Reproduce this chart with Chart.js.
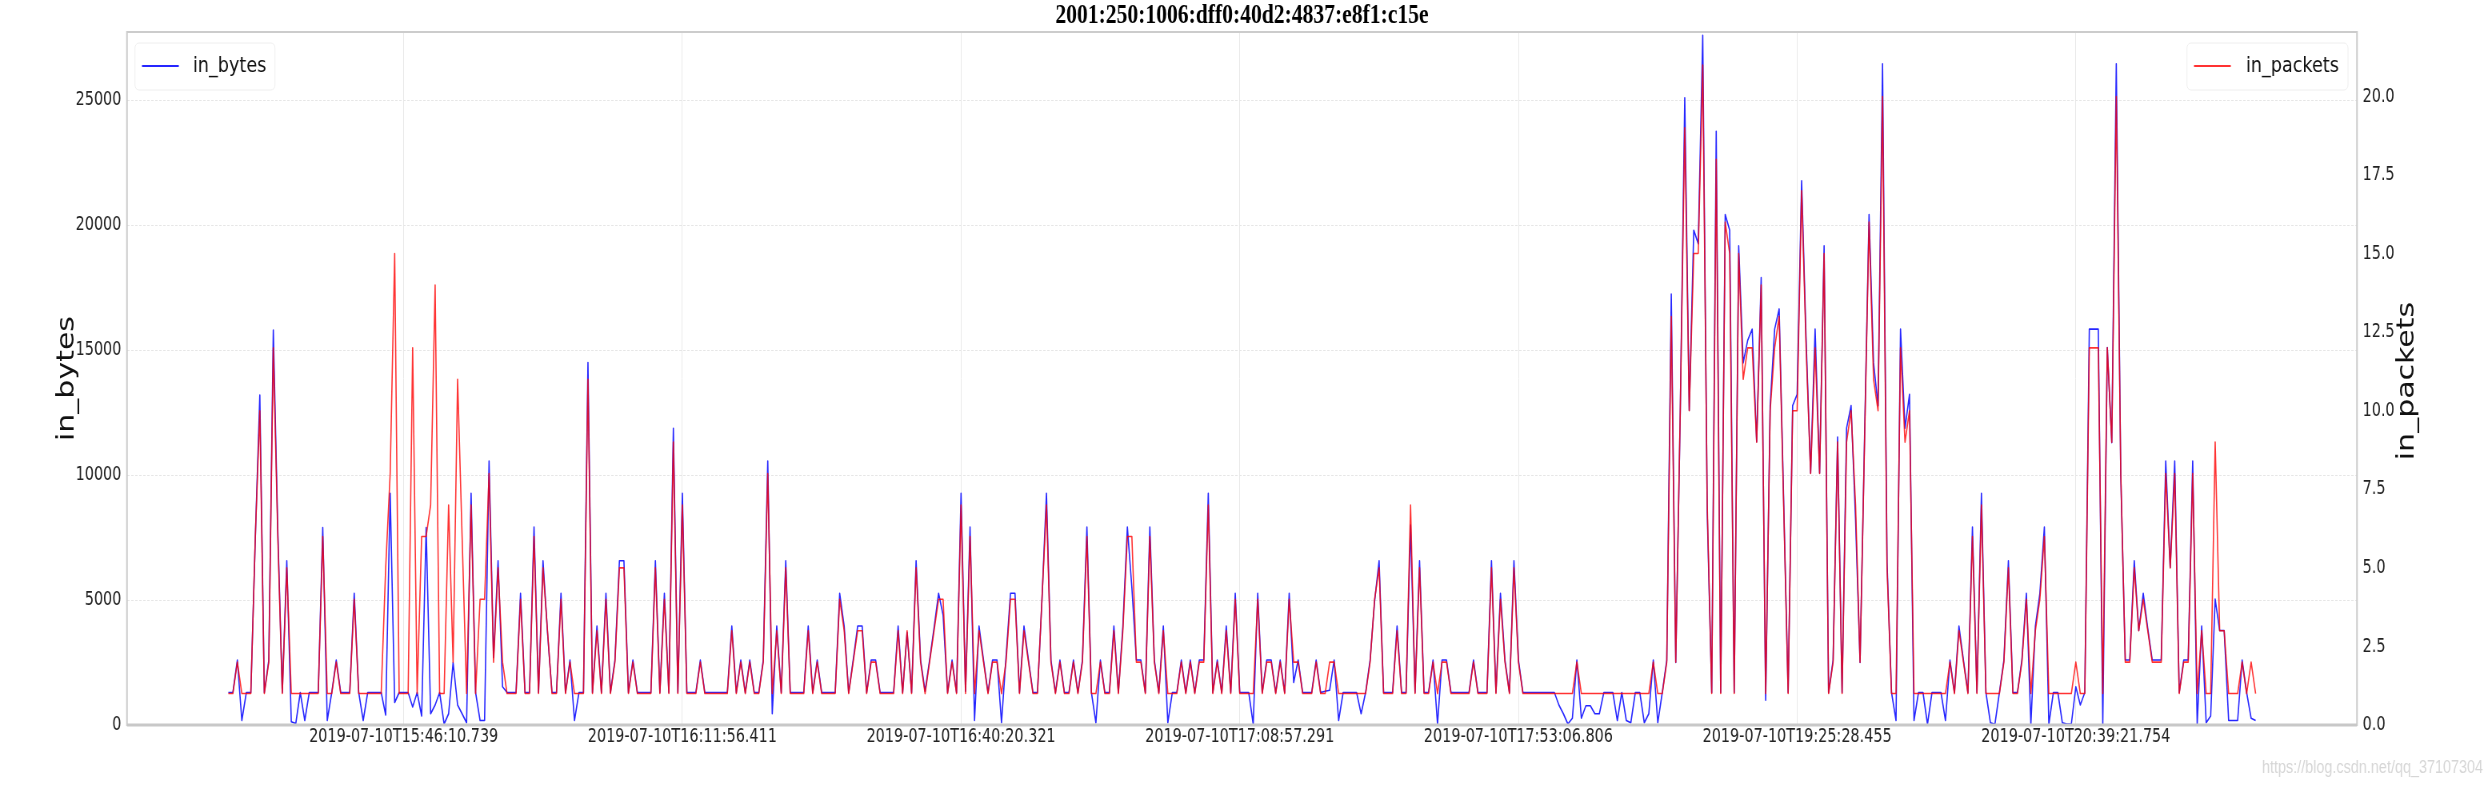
<!DOCTYPE html>
<html>
<head>
<meta charset="utf-8">
<script src="https://cdn.jsdelivr.net/npm/chart.js@4.4.0/dist/chart.umd.min.js"></script>
<style>
  html, body { margin: 0; padding: 0; background: #fff; overflow: hidden; }
  /* the reference is squeezed sideways, so draw wide and squash it */
  #wrap { width: 3115px; height: 786px; transform: scaleX(0.8); transform-origin: 0 0; }
</style>
</head>
<body>
<div id="wrap"><canvas id="chart" width="3115" height="786"></canvas></div>
<script>
const title = '2001:250:1006:dff0:40d2:4837:e8f1:c15e'

const tickIdx = [39, 101, 163, 225, 287, 349, 411]
const tickLabels = ['2019-07-10T15:46:10.739', '2019-07-10T16:11:56.411', '2019-07-10T16:40:20.321',
  '2019-07-10T17:08:57.291', '2019-07-10T17:53:06.806', '2019-07-10T19:25:28.455', '2019-07-10T20:39:21.754']
const bytesTicks = [0, 5000, 10000, 15000, 20000, 25000]
const packetTicks = [0, 2.5, 5, 7.5, 10, 12.5, 15, 17.5, 20]

const inPackets = [
  1,1,2,1,1,1,6,10,1,2, 12,6,1,5,1,1,1,1,1,1, 1,6,1,1,2,1,1,1,4,1, 1,1,1,1,1,5,8,15,1,1,
  1,12,1,6,6,7,14,1,1,7, 2,11,6,1,7,1,4,4,8,2, 5,2,1,1,1,4,1,1,6,1, 5,3,1,1,4,1,2,1,1,1,
  11,1,3,1,4,1,2,5,5,1, 2,1,1,1,1,5,1,4,1,9, 1,7,1,1,1,2,1,1,1,1, 1,1,3,1,2,1,2,1,1,2,
  8,1,3,1,5,1,1,1,1,3, 1,2,1,1,1,1,4,3,1,2, 3,3,1,2,2,1,1,1,1,3, 1,3,1,5,2,1,2,3,4,4,
  1,2,1,7,1,6,1,3,2,1, 2,2,1,2,4,4,1,3,2,1, 1,4,7,2,1,2,1,1,2,1, 2,6,1,1,2,1,1,3,1,3,
  6,6,2,2,1,6,2,1,3,1, 1,1,2,1,2,1,2,2,7,1, 2,1,3,1,4,1,1,1,1,4, 1,2,2,1,2,1,4,2,2,1,
  1,1,2,1,1,2,2,1,1,1, 1,1,1,1,2,4,5,1,1,1, 3,1,1,7,1,5,1,1,2,1, 2,2,1,1,1,1,1,2,1,1,
  1,5,1,4,2,1,5,2,1,1, 1,1,1,1,1,1,1,1,1,1, 2,1,1,1,1,1,1,1,1,1, 1,1,1,1,1,1,1,2,1,1,
  2,13,2,10,19,10,15,15,21,7, 1,18,1,16,15,1,15,11,12,12, 9,14,1,10,12,13,7,1,10,10,
  17,12,8,12,8,15,1,2,9,1, 9,10,7,2,9,16,11,10,20,5, 1,1,12,9,10,1,1,1,1,1,
  1,1,1,2,1,3,2,1,6,1, 7,1,1,1,1,2,5,1,1,2, 4,1,3,4,6,1,1,1,1,1, 1,2,1,1,12,12,12,1,12,9,
  20,8,2,2,5,3,4,3,2,2, 2,8,5,8,1,2,2,8,1,3, 1,1,9,3,3,1,1,1,2,1, 2,1
]

const inBytes = [
  1300,1300,2600,180,1300,1300,7500,13200,1300,2600, 15800,7800,1300,6570,130,60,1300,180,1300,1300,
  1300,7900,180,1300,2600,1300,1300,1300,5270,1300, 180,1300,1300,1300,1300,400,9270,900,1300,1300,
  1300,720,1300,360,7900,450,800,1300,40,450, 2500,800,450,90,9270,1300,180,180,10560,2700,
  6570,1530,1300,1300,1300,5270,1300,1300,7920,1300, 6570,3700,1300,1300,5270,1300,2600,180,1300,1300,
  14500,1300,3960,1300,5270,1300,2600,6570,6570,1300, 2600,1300,1300,1300,1300,6570,1300,5270,1300,11870,
  1300,9270,1300,1300,1300,2600,1300,1300,1300,1300, 1300,1300,3960,1300,2600,1300,2600,1300,1300,2600,
  10560,450,3960,1300,6570,1300,1300,1300,1300,3960, 1300,2600,1300,1300,1300,1300,5270,3960,1300,2600,
  3960,3960,1300,2600,2600,1300,1300,1300,1300,3960, 1300,3700,1300,6570,2600,1350,2600,3900,5270,4400,
  1300,2600,1300,9270,1350,7920,180,3960,2600,1300, 2600,2600,90,2700,5270,5270,1300,3960,2600,1300,
  1300,5000,9270,2600,1300,2600,1300,1300,2600,1300, 2600,7920,1300,90,2600,1300,1300,3960,1300,3960,
  7920,5500,2600,2600,1300,7920,2600,1300,3960,90, 1300,1300,2600,1300,2600,1300,2600,2600,9270,1300,
  2600,1300,3960,1300,5270,1300,1300,1300,30,5270, 1300,2600,2600,1300,2600,1300,5270,1700,2600,1300,
  1300,1300,2600,1300,1350,1390,2600,180,1300,1300, 1300,1300,450,1300,2600,4950,6570,1300,1300,1300,
  3960,1300,1300,8000,1300,6570,1300,1300,2600,30, 2600,2600,1300,1300,1300,1300,1300,2600,1300,1300,
  1300,6570,1300,5270,2600,1300,6570,2600,1300,1300, 1300,1300,1300,1300,1300,1300,800,450,40,270,
  2600,270,770,770,450,450,1300,1300,1300,180, 1300,180,90,1300,1300,90,450,2600,90,1300,
  2600,17240,2500,12500,25100,12600,19800,19260,27600,8500, 1300,23760,1300,20430,19800,1300,19170,14490,15390,15840,
  11340,17900,990,12780,15840,16650,9000,1300,12780,13230, 21780,15400,10080,15840,10080,19170,1300,2600,11520,1300,
  11880,12780,8200,2500,11500,20430,14490,12780,26460,6500, 1300,180,15840,11880,13230,180,1300,1300,30,1300,
  1300,1300,180,2600,1300,3960,2600,1300,7920,1300, 9270,1300,90,30,1300,2600,6570,1300,1300,2600,
  5270,30,3960,5270,7920,30,1300,1300,90,40, 40,1530,800,1300,15840,15840,15840,30,15100,11300,
  26460,10000,2600,2600,6570,3780,5270,3870,2600,2600, 2600,10560,6300,10560,1300,2600,2600,10560,30,3960,
  90,360,5040,3780,3780,180,180,180,2600,1300, 270,180
]

const SX = 0.8
const W = 2492 / SX
const plotLeft = 127 / SX
const plotRight = 2357 / SX
const n = inBytes.length - 1
const font = '"DejaVu Sans", sans-serif'
const tickFont = { family: '"DejaVu Sans Condensed", "DejaVu Sans", sans-serif', size: 20 }
const blue = 'rgba(0,0,255,0.85)'
const red = 'rgba(255,0,0,0.8)'

// legends, right hand axis label, frame and the watermark
const extras = {
  id: 'extras',
  afterDraw(chart) {
    const ctx = chart.ctx
    const a = chart.chartArea
    ctx.save()
    ctx.strokeStyle = '#cccccc'
    ctx.lineWidth = 2
    ctx.strokeRect(a.left, a.top, a.right - a.left, a.bottom - a.top)
    ctx.lineWidth = 3
    ctx.strokeStyle = '#c8c8c8'
    ctx.beginPath(); ctx.moveTo(a.left, a.bottom); ctx.lineTo(a.right, a.bottom); ctx.stroke()

    const legend = (x0, x1, lx, tx, color, text) => {
      ctx.fillStyle = 'rgba(255,255,255,0.8)'
      ctx.strokeStyle = '#eeeeee'
      ctx.lineWidth = 1
      ctx.beginPath(); ctx.roundRect(x0, 43, x1 - x0, 47, 5); ctx.fill(); ctx.stroke()
      ctx.strokeStyle = color
      ctx.lineWidth = 2
      ctx.beginPath(); ctx.moveTo(lx, 66); ctx.lineTo(lx + 46, 66); ctx.stroke()
      ctx.fillStyle = '#111'
      ctx.font = '22px ' + font
      ctx.textAlign = 'left'
      ctx.textBaseline = 'middle'
      ctx.fillText(text, tx, 66)
    }
    legend(135 / SX, 275 / SX, 142 / SX, 193 / SX, blue, 'in_bytes')
    legend(2187 / SX, 2348 / SX, 2194 / SX, 2246 / SX, red, 'in_packets')

    ctx.translate(2407 / SX, 381)
    ctx.rotate(-Math.PI / 2)
    ctx.font = '30px ' + font
    ctx.fillStyle = '#111'
    ctx.textAlign = 'center'
    ctx.textBaseline = 'middle'
    ctx.fillText('in_packets', 0, 0)
    ctx.setTransform(1, 0, 0, 1, 0, 0)

    ctx.font = '18px "Liberation Sans", sans-serif'
    ctx.fillStyle = '#d6d6d6'
    ctx.textAlign = 'right'
    ctx.fillText('https://blog.csdn.net/qq_37107304', 2483 / SX, 768)
    ctx.restore()
  }
}

new Chart(document.getElementById('chart'), {
  type: 'line',
  data: {
    datasets: [{
      label: 'in_packets',
      data: inPackets.map((v, i) => ({x: i, y: v})),
      yAxisID: 'y1',
      borderColor: red,
      borderWidth: 1.6,
      borderJoinStyle: 'round',
      pointRadius: 0,
      tension: 0,
      order: 1
    }, {
      label: 'in_bytes',
      data: inBytes.map((v, i) => ({x: i, y: v})),
      yAxisID: 'y',
      borderColor: blue,
      borderWidth: 1.6,
      borderJoinStyle: 'round',
      pointRadius: 0,
      tension: 0,
      order: 2
    }]
  },
  options: {
    responsive: false,
    animation: false,
    devicePixelRatio: 1,
    layout: { padding: 0 },
    plugins: {
      legend: { display: false },
      tooltip: { enabled: false },
      title: {
        display: true,
        text: title,
        fullSize: false,
        color: '#000',
        font: { family: '"Liberation Serif", serif', size: 27, weight: 'bold', lineHeight: 1 },
        padding: { top: 3, bottom: 2 }
      }
    },
    scales: {
      x: {
        type: 'linear',
        min: -0.05 * n,
        max: 1.05 * n,
        afterBuildTicks: s => { s.ticks = tickIdx.map(v => ({value: v})) },
        afterFit: s => { s.height = 61 },
        ticks: {
          autoSkip: false, maxRotation: 0, padding: 0, color: '#222',
          font: tickFont,
          callback: (v, i) => tickLabels[i]
        },
        grid: { color: '#e8e8e8', drawTicks: false },
        border: { display: false }
      },
      y: {
        position: 'left',
        min: 0,
        max: 27730,
        afterBuildTicks: s => { s.ticks = bytesTicks.map(v => ({value: v})) },
        afterFit: s => { s.width = plotLeft },
        ticks: { padding: 7, color: '#222', font: tickFont, callback: v => String(v) },
        title: { display: true, text: 'in_bytes', color: '#111', font: { family: font, size: 30 }, padding: { top: 66 } },
        grid: { color: '#e6e6e6', drawTicks: false },
        border: { display: false, dash: [3, 2] }
      },
      y1: {
        position: 'right',
        min: 0,
        max: 22.05,
        afterBuildTicks: s => { s.ticks = packetTicks.map(v => ({value: v})) },
        afterFit: s => { s.width = W - plotRight },
        ticks: {
          padding: 7, color: '#222',
          font: tickFont,
          callback: v => v.toFixed(1)
        },
        grid: { display: false, drawTicks: false },
        border: { display: false }
      }
    }
  },
  plugins: [extras]
})
</script>
</body>
</html>
